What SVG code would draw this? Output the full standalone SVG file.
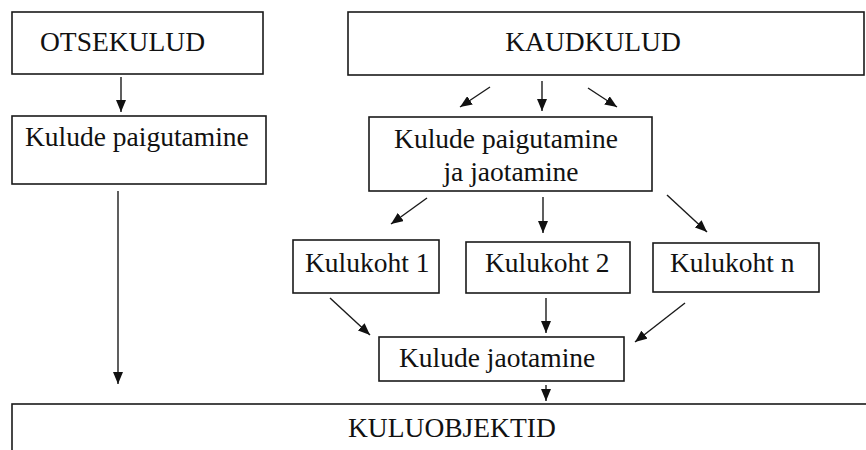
<svg xmlns="http://www.w3.org/2000/svg" width="866" height="450" viewBox="0 0 866 450">
<style>
.box{fill:#fff;stroke:#1a1a1a;stroke-width:1.6}
.t{font-family:"Liberation Serif","Times New Roman",serif;font-size:27.5px;fill:#111}
.c{stroke:#1a1a1a;stroke-width:1.4;fill:none;marker-end:url(#ah)}
</style>
<defs>
<marker id="ah" viewBox="0 0 12 10" refX="12" refY="5" markerWidth="12" markerHeight="10" markerUnits="userSpaceOnUse" orient="auto">
<path d="M0,0 L12,5 L0,10 Z" fill="#111"/>
</marker>
</defs>
<rect width="866" height="450" fill="#fff"/>
<g id="connectors">
<line class="c" x1="121" y1="77" x2="121" y2="112"/>
<line class="c" x1="118" y1="191" x2="118" y2="384"/>
<line class="c" x1="490" y1="87" x2="460" y2="107"/>
<line class="c" x1="542" y1="81" x2="542" y2="111"/>
<line class="c" x1="588" y1="88" x2="617" y2="107"/>
<line class="c" x1="427" y1="198" x2="391" y2="224"/>
<line class="c" x1="543" y1="197" x2="543" y2="233"/>
<line class="c" x1="667" y1="195" x2="707" y2="232"/>
<line class="c" x1="330" y1="298" x2="370" y2="335"/>
<line class="c" x1="546" y1="298" x2="546" y2="333"/>
<line class="c" x1="685" y1="303" x2="635" y2="342"/>
<line class="c" x1="546" y1="385" x2="546" y2="401"/>
</g>
<g id="otsekulud">
<rect class="box" x="12" y="12" width="251" height="62"/>
<text class="t" x="40" y="51">OTSEKULUD</text>
</g>
<g id="kaudkulud">
<rect class="box" x="348" y="12" width="516" height="63"/>
<text class="t" x="593" y="51" text-anchor="middle">KAUDKULUD</text>
</g>
<g id="kulude-paigutamine">
<rect class="box" x="12" y="116" width="254" height="68"/>
<text class="t" x="25" y="146">Kulude paigutamine</text>
</g>
<g id="paigutamine-jaotamine">
<rect class="box" x="369" y="117" width="283" height="74"/>
<text class="t" x="506" y="148" text-anchor="middle">Kulude paigutamine</text>
<text class="t" x="511" y="181" text-anchor="middle">ja jaotamine</text>
</g>
<g id="kulukoht1">
<rect class="box" x="293" y="240" width="146" height="53"/>
<text class="t" x="305" y="272">Kulukoht 1</text>
</g>
<g id="kulukoht2">
<rect class="box" x="466" y="242" width="164" height="51"/>
<text class="t" x="485" y="272">Kulukoht 2</text>
</g>
<g id="kulukohtn">
<rect class="box" x="653" y="243" width="166" height="49"/>
<text class="t" x="670" y="272">Kulukoht n</text>
</g>
<g id="kulude-jaotamine">
<rect class="box" x="379" y="337" width="245" height="44"/>
<text class="t" x="399" y="367">Kulude jaotamine</text>
</g>
<g id="kuluobjektid">
<rect class="box" x="12" y="404" width="870" height="60"/>
<text class="t" x="348" y="437">KULUOBJEKTID</text>
</g>
</svg>
